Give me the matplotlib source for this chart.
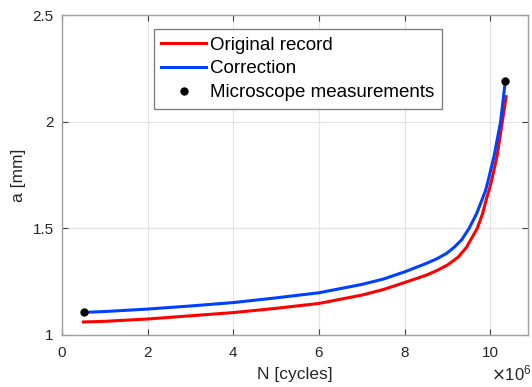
import matplotlib
matplotlib.use("Agg")
from matplotlib import pyplot as plt

plt.rcParams['font.family'] = ['Liberation Sans', 'DejaVu Sans']

# values (N in millions of cycles, a in mm)
n_orig = [0.50, 1, 2, 3, 4, 5, 6, 7, 7.5, 8, 8.5, 8.75, 9.0, 9.25, 9.44, 9.69, 9.82, 9.92,
          9.97, 10.03, 10.16, 10.28, 10.37]
a_orig = [1.061, 1.064, 1.075, 1.09, 1.105, 1.125, 1.148, 1.187, 1.213, 1.246, 1.28, 1.302,
          1.328, 1.365, 1.41, 1.498, 1.569, 1.646, 1.678, 1.724, 1.841, 2.0, 2.117]

n_corr = [0.52, 1, 2, 3, 4, 5, 6, 7, 7.5, 8, 8.5, 8.75, 8.98, 9.15, 9.33, 9.5, 9.68, 9.83,
          9.89, 9.95, 10.09, 10.24, 10.35]
a_corr = [1.106, 1.110, 1.1215, 1.136, 1.152, 1.174, 1.198, 1.237, 1.262, 1.296, 1.335, 1.357,
          1.383, 1.41, 1.446, 1.498, 1.569, 1.646, 1.678, 1.724, 1.841, 2.0, 2.19]

n_meas = [0.52, 10.35]
a_meas = [1.106, 2.19]

x_ticks = [0, 2, 4, 6, 8, 10]
y_ticks = [1, 1.5, 2, 2.5]
y_tick_labels = ["1", "1.5", "2", "2.5"]

fig = plt.figure(figsize=(5.32, 3.87), dpi=100)
ax = fig.add_axes([0.1165, 0.1344, 0.876, 0.8268])

ax.plot([n * 1e6 for n in n_orig], a_orig, color="#ff0000", lw=2.2,
        solid_joinstyle="round", label="Original record")
ax.plot([n * 1e6 for n in n_corr], a_corr, color="#0040ff", lw=2.2,
        solid_joinstyle="round", label="Correction")
ax.plot([n * 1e6 for n in n_meas], a_meas, linestyle="none", marker="o", ms=5,
        color="black", mfc="black", label="Microscope measurements")

ax.set_xlim(0, 10.88e6)
ax.set_ylim(1, 2.5)
ax.set_xticks([t * 1e6 for t in x_ticks])
ax.set_xticklabels([str(t) for t in x_ticks])
ax.set_yticks(y_ticks)
ax.set_yticklabels(y_tick_labels)

ax.grid(True, color="#e3e3e3", lw=0.8)
ax.set_axisbelow(True)
for s in ax.spines.values():
    s.set_color("#a0a0a0")
    s.set_linewidth(1.0)
ax.tick_params(direction="in", top=True, right=True, length=4, color="#404040",
               labelsize=11, labelcolor="#262626")
ax.tick_params(axis="x", pad=8)
ax.tick_params(axis="y", pad=6)

ax.set_xlabel("N [cycles]", fontsize=12.5, color="#262626", labelpad=5)
ax.set_ylabel("a [mm]", fontsize=12.5, color="#262626", labelpad=5)
fig.text(0.999, 0.018, r"$\times\mathregular{10^6}$", fontsize=12, color="#262626", ha="right")

leg = ax.legend(loc="upper left", bbox_to_anchor=(0.197, 0.956), fontsize=13.5,
                frameon=True, fancybox=False, handlelength=2.4, handletextpad=0.2,
                borderpad=0.4, labelspacing=0.35, borderaxespad=0)
leg.get_frame().set_edgecolor("#808080")
leg.get_frame().set_linewidth(1.0)
leg.get_frame().set_alpha(1)

fig.savefig("out.png", dpi=100)
